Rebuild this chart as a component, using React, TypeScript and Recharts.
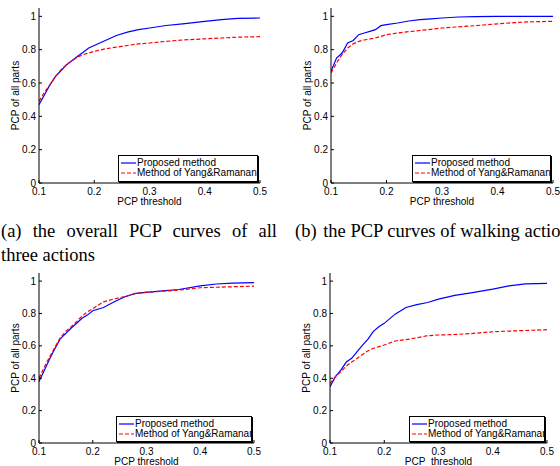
import React from "react";
import { Legend, Line, LineChart, XAxis, YAxis } from "recharts";

const SANS = "'Liberation Sans', Arial, Helvetica, sans-serif";
const SERIF = "'Liberation Serif', 'Times New Roman', serif";

// PCP thresholds shared by every panel
const thresholds = [
  0.1, 0.11, 0.12, 0.13, 0.14, 0.15, 0.16, 0.17, 0.18, 0.19, 0.2, 0.22, 0.24,
  0.26, 0.28, 0.3, 0.33, 0.36, 0.4, 0.43, 0.46, 0.5,
];

// (a) all three actions
const proposedAll = [
  0.47, 0.53, 0.59, 0.64, 0.675, 0.71, 0.735, 0.76, 0.785, 0.81, 0.825, 0.855,
  0.885, 0.905, 0.92, 0.93, 0.945, 0.955, 0.97, 0.98, 0.988, 0.99,
];
const yangAll = [
  0.49, 0.545, 0.59, 0.64, 0.68, 0.71, 0.735, 0.755, 0.77, 0.78, 0.79, 0.805,
  0.815, 0.825, 0.835, 0.84, 0.85, 0.858, 0.865, 0.87, 0.875, 0.878,
];

// (b) walking
const proposedWalking = [
  0.67, 0.75, 0.78, 0.84, 0.855, 0.89, 0.9, 0.91, 0.92, 0.944, 0.95, 0.96,
  0.972, 0.98, 0.985, 0.99, 0.996, 0.998, 1, 1, 1, 1,
];
const yangWalking = [
  0.66, 0.72, 0.77, 0.81, 0.835, 0.85, 0.858, 0.865, 0.87, 0.88, 0.89, 0.9,
  0.908, 0.915, 0.922, 0.93, 0.937, 0.944, 0.955, 0.962, 0.967, 0.97,
];

// (c)
const proposedC = [
  0.38, 0.45, 0.52, 0.585, 0.645, 0.677, 0.71, 0.74, 0.77, 0.79, 0.817, 0.837,
  0.872, 0.903, 0.924, 0.93, 0.94, 0.948, 0.97, 0.982, 0.988, 0.99,
];
const yangC = [
  0.4, 0.47, 0.533, 0.595, 0.652, 0.69, 0.718, 0.75, 0.784, 0.81, 0.83, 0.872,
  0.89, 0.905, 0.924, 0.932, 0.938, 0.944, 0.959, 0.962, 0.965, 0.969,
];

// (d)
const proposedD = [
  0.348, 0.41, 0.45, 0.5, 0.523, 0.564, 0.605, 0.642, 0.69, 0.718, 0.739, 0.796,
  0.837, 0.855, 0.868, 0.889, 0.912, 0.927, 0.95, 0.97, 0.983, 0.986,
];
const yangD = [
  0.368, 0.41, 0.44, 0.475, 0.5, 0.523, 0.547, 0.57, 0.585, 0.595, 0.605, 0.63,
  0.638, 0.65, 0.663, 0.667, 0.67, 0.676, 0.687, 0.691, 0.695, 0.7,
];

const seriesNames = { proposed: "Proposed method", yang: "Method of Yang&Ramanan" };
const xTicks = [0.1, 0.2, 0.3, 0.4, 0.5];
const yTicks = [0, 0.2, 0.4, 0.6, 0.8, 1];

const BLUE = "#0000ff";
const RED = "#ff0000";
const DASH = "4 2";
const X_AXIS_HEIGHT = 27;

function BoxLegend({ payload, width, height }: any) {
  const order = ["proposed", "yang"];
  const items = [...(payload ?? [])].sort(
    (a: any, b: any) => order.indexOf(a.dataKey) - order.indexOf(b.dataKey),
  );
  return (
    <div
      style={{
        width,
        height,
        boxSizing: "border-box",
        border: "1px solid #000",
        boxShadow: "1px 1px 0 #000",
        background: "#fff",
        overflow: "hidden",
        padding: "2px 0 0 2px",
        fontFamily: SANS,
        fontSize: 10,
        color: "#000",
      }}
    >
      {items.map((item: any) => (
        <div
          key={item.dataKey}
          style={{ display: "flex", alignItems: "center", height: 10, lineHeight: "10px", whiteSpace: "nowrap" }}
        >
          <svg width={16} height={4} style={{ flex: "none" }}>
            <line
              x1={0}
              x2={15}
              y1={2}
              y2={2}
              stroke={item.color}
              strokeWidth={1.2}
              strokeDasharray={item.dataKey === "yang" ? DASH : undefined}
            />
          </svg>
          <span>{item.value}</span>
        </div>
      ))}
    </div>
  );
}

interface PanelProps {
  left: number;
  top: number;
  height: number;
  marginTop: number;
  marginRight: number;
  yAxisWidth: number;
  legendWidth: number;
  legendHeight: number;
  xLabel: string;
  proposed: number[];
  yang: number[];
}

function PcpPanel({
  left,
  top,
  height,
  marginTop,
  marginRight,
  yAxisWidth,
  legendWidth,
  legendHeight,
  xLabel,
  proposed,
  yang,
}: PanelProps) {
  const width = 280;
  const data = thresholds.map((t, i) => ({ t, proposed: proposed[i], yang: yang[i] }));
  const plotBottom = height - X_AXIS_HEIGHT;
  const plotRight = width - marginRight;

  return (
    <div style={{ position: "absolute", left, top, width, height }}>
      <LineChart
        width={width}
        height={height}
        data={data}
        margin={{ top: marginTop, right: marginRight, bottom: 0, left: 0 }}
      >
        <XAxis
          dataKey="t"
          type="number"
          domain={[0.1, 0.5]}
          ticks={xTicks}
          interval={0}
          allowDataOverflow
          height={X_AXIS_HEIGHT}
          stroke="#000"
          tickSize={-3}
          tickMargin={8}
          tick={{ fill: "#000", fontSize: 10, fontFamily: SANS }}
          label={(p: any) => {
            const vb = p.viewBox;
            return (
              <text
                x={vb.x + vb.width / 2}
                y={vb.y + 21.5}
                textAnchor="middle"
                fontSize={10}
                fontFamily={SANS}
                fill="#000"
              >
                {xLabel}
              </text>
            );
          }}
        />
        <YAxis
          type="number"
          domain={[0, 1.05]}
          ticks={yTicks}
          interval={0}
          allowDataOverflow
          width={yAxisWidth}
          stroke="#000"
          tickSize={-3}
          tickMargin={6}
          tick={{ fill: "#000", fontSize: 10, fontFamily: SANS }}
          tickFormatter={(v: number) => String(v)}
          label={(p: any) => {
            const vb = p.viewBox;
            const cx = vb.x + vb.width - 20;
            const cy = vb.y + vb.height / 2;
            return (
              <text
                x={cx}
                y={cy}
                transform={`rotate(-90 ${cx} ${cy})`}
                textAnchor="middle"
                fontSize={10}
                fontFamily={SANS}
                fill="#000"
              >
                PCP of all parts
              </text>
            );
          }}
        />
        <Line
          dataKey="proposed"
          name={seriesNames.proposed}
          type="linear"
          stroke={BLUE}
          strokeWidth={1.2}
          dot={false}
          isAnimationActive={false}
        />
        <Line
          dataKey="yang"
          name={seriesNames.yang}
          type="linear"
          stroke={RED}
          strokeWidth={1.2}
          strokeDasharray={DASH}
          dot={false}
          isAnimationActive={false}
        />
        <Legend
          layout="vertical"
          align="center"
          verticalAlign="middle"
          width={legendWidth}
          height={legendHeight}
          wrapperStyle={{
            left: plotRight - 2 - legendWidth,
            top: plotBottom - 1 - legendHeight,
            width: legendWidth,
            height: legendHeight,
          }}
          content={(props: any) => (
            <BoxLegend payload={props.payload} width={legendWidth} height={legendHeight} />
          )}
        />
      </LineChart>
    </div>
  );
}

export default function App() {
  return (
    <div
      style={{
        position: "absolute",
        left: 0,
        top: 0,
        width: 560,
        height: 466,
        overflow: "hidden",
        background: "#fff",
      }}
    >
      <PcpPanel
        left={0}
        top={0}
        height={210}
        marginTop={8}
        marginRight={20}
        yAxisWidth={39}
        legendWidth={140}
        legendHeight={27}
        xLabel="PCP threshold"
        proposed={proposedAll}
        yang={yangAll}
      />
      <PcpPanel
        left={280}
        top={0}
        height={210}
        marginTop={8}
        marginRight={7}
        yAxisWidth={51}
        legendWidth={139}
        legendHeight={27}
        xLabel="PCP threshold"
        proposed={proposedWalking}
        yang={yangWalking}
      />
      <PcpPanel
        left={0}
        top={262}
        height={208}
        marginTop={11}
        marginRight={26}
        yAxisWidth={39}
        legendWidth={136}
        legendHeight={26}
        xLabel="PCP threshold"
        proposed={proposedC}
        yang={yangC}
      />
      <PcpPanel
        left={280}
        top={262}
        height={208}
        marginTop={11}
        marginRight={13}
        yAxisWidth={50}
        legendWidth={136}
        legendHeight={26}
        xLabel="PCP_threshold"
        proposed={proposedD}
        yang={yangD}
      />

      <div
        style={{
          position: "absolute",
          left: 1,
          top: 219,
          width: 276,
          fontFamily: SERIF,
          fontSize: 18.5,
          lineHeight: "24px",
          color: "#000",
        }}
      >
        <div style={{ textAlign: "justify", textAlignLast: "justify" }}>
          (a) the overall PCP curves of all
        </div>
        <div>three actions</div>
      </div>
      <div
        style={{
          position: "absolute",
          left: 295,
          top: 219,
          whiteSpace: "nowrap",
          fontFamily: SERIF,
          fontSize: 18.5,
          lineHeight: "24px",
          color: "#000",
        }}
      >
        <span style={{ marginRight: 2 }}>(b)</span> the PCP curves of walking action
      </div>
    </div>
  );
}
